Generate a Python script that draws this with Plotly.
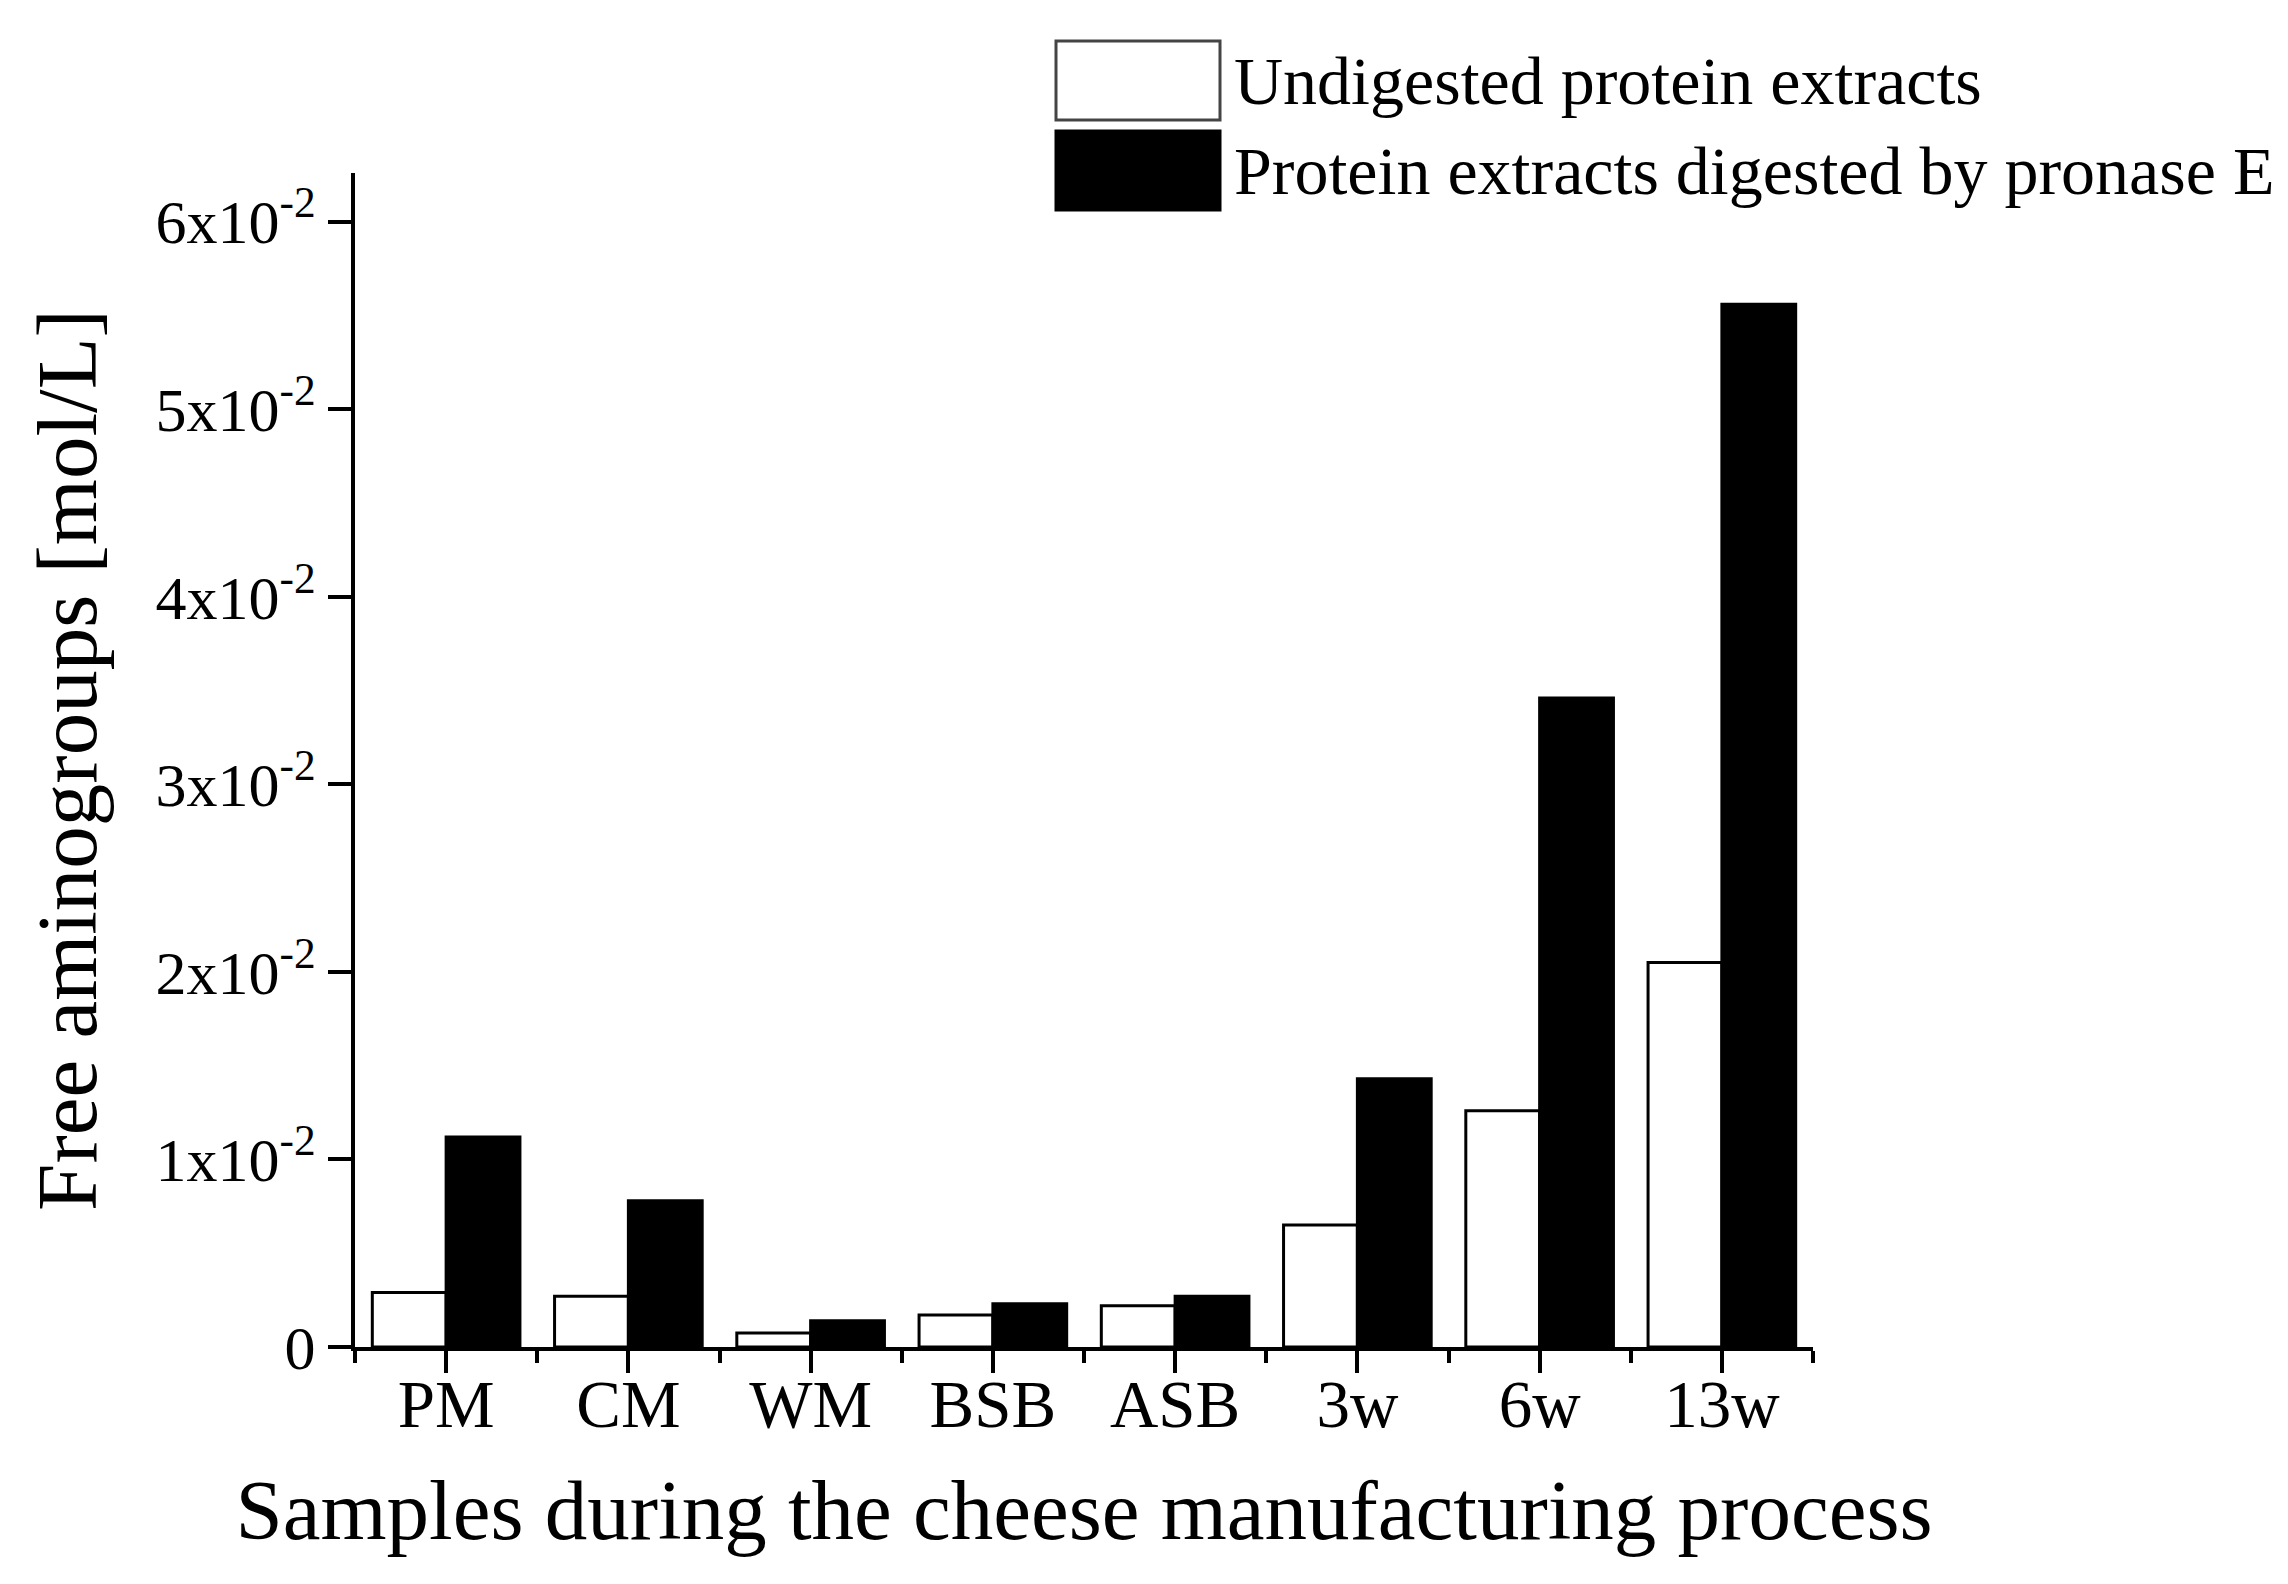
import plotly.graph_objects as go

categories = ["PM", "CM", "WM", "BSB", "ASB", "3w", "6w", "13w"]
undigested = [0.0029, 0.0027, 0.00075, 0.0017, 0.0022, 0.0065, 0.0126, 0.0205]
digested = [0.0112, 0.0078, 0.0014, 0.0023, 0.0027, 0.0143, 0.0346, 0.0556]
series_names = ["Undigested protein extracts", "Protein extracts digested by pronase E"]
y_tickvals = [0, 0.01, 0.02, 0.03, 0.04, 0.05, 0.06]
y_ticktext = ["0", "1x10<sup>-2</sup>", "2x10<sup>-2</sup>", "3x10<sup>-2</sup>",
              "4x10<sup>-2</sup>", "5x10<sup>-2</sup>", "6x10<sup>-2</sup>"]
x_title = "Samples during the cheese manufacturing process"
y_title = "Free aminogroups [mol/L]"

FONT = "Liberation Serif"
W, H = 2288, 1584
OFF = 8  # page body margin
# target plot area in page pixels: x 355..1813, y 173..1347
L = 355 - OFF
T = 173 - OFF
R = W - (1813 - OFF)
B = H - (1347 - OFF)

xpos = list(range(len(categories)))

fig = go.Figure()
fig.add_trace(go.Bar(x=xpos, y=undigested, name=series_names[0],
                     marker=dict(color="white", line=dict(color="black", width=3)),
                     showlegend=False))
fig.add_trace(go.Bar(x=xpos, y=digested, name=series_names[1],
                     marker=dict(color="black", line=dict(color="black", width=3)),
                     showlegend=False))

fig.update_layout(
    width=W, height=H,
    margin=dict(l=L, r=R, t=T, b=B, autoexpand=False),
    paper_bgcolor="white", plot_bgcolor="white",
    barmode="group", bargap=0.19, bargroupgap=0,
    font=dict(family=FONT, color="black"),
)

fig.update_xaxes(
    range=[-0.5, len(categories) - 0.5],
    tickvals=xpos, ticktext=categories,
    ticks="outside", ticklen=22, tickwidth=4, tickcolor="black",
    tickfont=dict(size=67, family=FONT),
    ticklabelstandoff=-26,
    showline=True, linewidth=4, linecolor="black",
    showgrid=False, zeroline=False,
    minor=dict(tickvals=[i - 0.5 for i in range(len(categories) + 1)],
               ticks="outside", ticklen=12, tickwidth=4, tickcolor="black", showgrid=False),
    title=dict(text=x_title, font=dict(size=85, family=FONT), standoff=40),
)
fig.update_yaxes(
    range=[0, 0.0626],
    tickvals=y_tickvals, ticktext=y_ticktext,
    ticks="outside", ticklen=23, tickwidth=4, tickcolor="black",
    tickfont=dict(size=62, family=FONT),
    showline=True, linewidth=4, linecolor="black",
    showgrid=False, zeroline=False,
    title=dict(text=y_title, font=dict(size=85, family=FONT), standoff=32),
)

# Manual legend (large swatches as in the reference)
pw = W - L - R
ph = H - T - B
def px_x(x):
    return (x - OFF - L) / pw
def px_y(y):
    return (H - B - (y - OFF)) / ph

swatches = [("white", 41, 120), ("black", 131, 210)]
for (fill, y0, y1), name in zip(swatches, series_names):
    fig.add_shape(type="rect", xref="paper", yref="paper",
                  x0=px_x(1056), x1=px_x(1220), y0=px_y(y1), y1=px_y(y0),
                  fillcolor=fill, line=dict(color="#444" if fill == "white" else "black", width=3))
    fig.add_annotation(xref="paper", yref="paper", x=px_x(1232), y=px_y((y0 + y1) / 2),
                       text=name, showarrow=False, xanchor="left", yanchor="middle",
                       font=dict(size=68, family=FONT, color="black"))

fig.write_html("out.html")
